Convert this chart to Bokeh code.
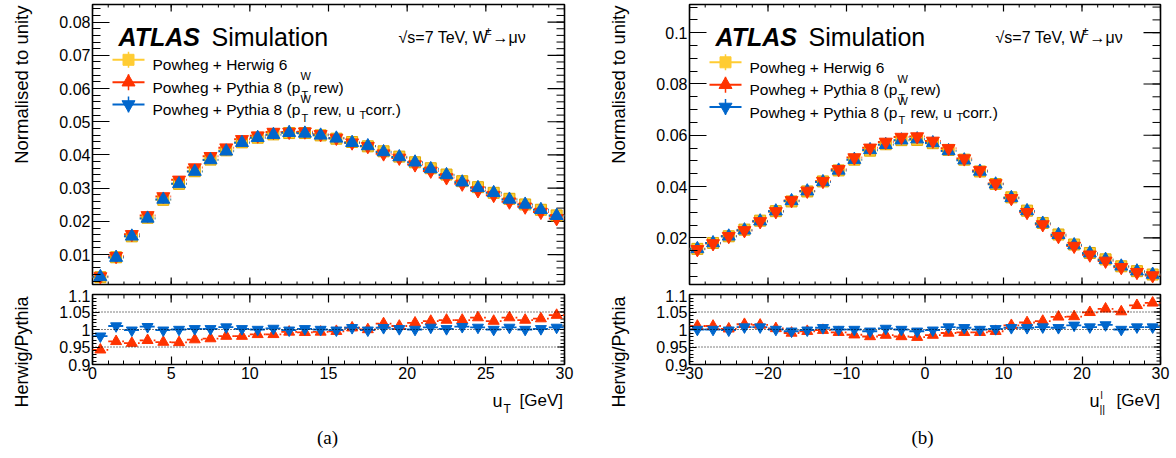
import numpy as np
from bokeh.plotting import figure
from bokeh.models import Range1d, FixedTicker, Label, Span, ColumnDataSource
from bokeh.layouts import row, column
from bokeh.embed import file_html
from bokeh.resources import INLINE

# ---------------- data ----------------
ut_centres = [0.5, 1.5, 2.5, 3.5, 4.5, 5.5, 6.5, 7.5, 8.5, 9.5, 10.5, 11.5, 12.5, 13.5, 14.5,
              15.5, 16.5, 17.5, 18.5, 19.5, 20.5, 21.5, 22.5, 23.5, 24.5, 25.5, 26.5, 27.5, 28.5, 29.5]
ut_herwig = [0.0032, 0.0092, 0.0155, 0.0211, 0.0265, 0.0313, 0.0351, 0.0386, 0.0414, 0.0438,
             0.0452, 0.0462, 0.0466, 0.0466, 0.0459, 0.0449, 0.0439, 0.0426, 0.0411, 0.0395,
             0.0378, 0.0360, 0.0341, 0.0321, 0.0303, 0.0286, 0.0268, 0.0251, 0.0235, 0.0218]
ut_pythia_rew = [0.0034, 0.0095, 0.0161, 0.0218, 0.0275, 0.0325, 0.0362, 0.0396, 0.0422, 0.0447,
                 0.0458, 0.0469, 0.0469, 0.0470, 0.0462, 0.0451, 0.0437, 0.0426, 0.0404, 0.0391,
                 0.0371, 0.0352, 0.0332, 0.0313, 0.0293, 0.0279, 0.0259, 0.0244, 0.0228, 0.0209]
ut_pythia_corr = [0.0033, 0.0091, 0.0155, 0.0209, 0.0266, 0.0313, 0.0350, 0.0385, 0.0411, 0.0437,
                  0.0452, 0.0461, 0.0467, 0.0465, 0.0459, 0.0450, 0.0437, 0.0427, 0.0409, 0.0394,
                  0.0378, 0.0358, 0.0340, 0.0318, 0.0301, 0.0286, 0.0266, 0.0251, 0.0235, 0.0217]
ut_ratio_rew = [0.942, 0.966, 0.961, 0.969, 0.964, 0.963, 0.971, 0.974, 0.981, 0.981,
                0.986, 0.986, 0.993, 0.992, 0.993, 0.995, 1.005, 1.000, 1.017, 1.010,
                1.019, 1.024, 1.027, 1.027, 1.034, 1.024, 1.034, 1.027, 1.031, 1.041]
ut_ratio_corr = [0.981, 1.010, 0.998, 1.008, 0.998, 1.000, 1.002, 1.002, 1.007, 1.002,
                 1.000, 1.003, 0.998, 1.002, 1.000, 0.998, 1.005, 0.998, 1.005, 1.002,
                 1.000, 1.006, 1.002, 1.008, 1.006, 1.000, 1.006, 1.000, 1.002, 1.006]

upar_centres = [-29, -27, -25, -23, -21, -19, -17, -15, -13, -11, -9, -7, -5, -3, -1,
                1, 3, 5, 7, 9, 11, 13, 15, 17, 19, 21, 23, 25, 27, 29]
upar_herwig = [0.0157, 0.0180, 0.0206, 0.0232, 0.0267, 0.0304, 0.0342, 0.0381, 0.0420, 0.0463,
               0.0505, 0.0540, 0.0565, 0.0581, 0.0582, 0.0569, 0.0543, 0.0505, 0.0459, 0.0410,
               0.0358, 0.0306, 0.0258, 0.0213, 0.0174, 0.0141, 0.0116, 0.0089, 0.0070, 0.0057]
upar_pythia_rew = [0.0155, 0.0178, 0.0206, 0.0229, 0.0264, 0.0303, 0.0346, 0.0383, 0.0421, 0.0467,
                   0.0513, 0.0551, 0.0574, 0.0593, 0.0595, 0.0578, 0.0549, 0.0509, 0.0463, 0.0412,
                   0.0354, 0.0300, 0.0252, 0.0206, 0.0168, 0.0134, 0.0110, 0.0085, 0.0066, 0.0053]
upar_pythia_corr = [0.0157, 0.0180, 0.0206, 0.0230, 0.0265, 0.0304, 0.0344, 0.0382, 0.0418, 0.0463,
                    0.0505, 0.0543, 0.0563, 0.0581, 0.0585, 0.0570, 0.0539, 0.0503, 0.0459, 0.0409,
                    0.0356, 0.0305, 0.0256, 0.0212, 0.0172, 0.0140, 0.0115, 0.0089, 0.0070, 0.0057]
upar_ratio_rew = [1.010, 1.010, 1.002, 1.015, 1.013, 1.003, 0.990, 0.995, 0.998, 0.992,
                  0.985, 0.980, 0.984, 0.980, 0.978, 0.984, 0.990, 0.992, 0.992, 0.995,
                  1.012, 1.020, 1.024, 1.036, 1.037, 1.049, 1.059, 1.051, 1.069, 1.076]
upar_ratio_corr = [1.000, 1.000, 0.998, 1.007, 1.007, 1.000, 0.995, 0.998, 1.005, 1.000,
                   1.000, 0.995, 1.003, 1.000, 0.995, 0.998, 1.007, 1.005, 1.000, 1.002,
                   1.005, 1.005, 1.007, 1.005, 1.012, 1.007, 1.013, 1.000, 1.007, 1.007]

legend_labels = ["Powheg + Herwig 6", "Powheg + Pythia 8 (p", "Powheg + Pythia 8 (p"]

# ---------------- style ----------------
SANS = "Liberation Sans"
SERIF = "Liberation Serif"
C_HER = "#ffcc33"
C_REW = "#ff3300"
C_COR = "#0066cc"
TICK_FS = "16px"

H_MAIN, H_RAT, H_XT = 289, 96, 70
FT_M, FH_M = 4, 280          # main frame, page coords
FT_R, FH_R = 294, 70         # ratio frame, page coords
Y_XT = H_MAIN + H_RAT        # top of the x-title strip
H_TOT = H_MAIN + H_RAT + H_XT


def conv(FL, FT, FW, FH, xr, yr):
    def cx(px):
        return xr[0] + (px - FL) / FW * (xr[1] - xr[0])

    def cy(py):
        return yr[1] - (py - FT) / FH * (yr[1] - yr[0])
    return cx, cy


def add_label(p, cv, px, py, text, size, font=SANS, style="normal", align="left",
              baseline="alphabetic", angle=0.0):
    cx, cy = cv
    p.add_layout(Label(x=cx(px), y=cy(py), text=text, text_font=font,
                       text_font_size=f"{size}px", text_font_style=style,
                       text_align=align, text_baseline=baseline, angle=angle,
                       text_color="black"))


def style_axis(ax, ticks, minor, maj_len, min_len, labels, standoff):
    ax.ticker = FixedTicker(ticks=ticks, minor_ticks=minor)
    ax.major_tick_in = int(maj_len)
    ax.major_tick_out = 0
    ax.minor_tick_in = int(min_len)
    ax.minor_tick_out = 0
    ax.axis_line_color = None
    ax.major_tick_line_color = "black"
    ax.minor_tick_line_color = "black"
    ax.major_tick_line_width = 1.2
    ax.minor_tick_line_width = 1.0
    ax.major_label_overrides = labels
    ax.major_label_text_font = SANS
    ax.major_label_text_font_size = TICK_FS
    ax.major_label_text_color = "black"
    ax.major_label_standoff = standoff


def manual_ticks(p, side, ticks, minor, maj_px, min_px, xr, yr, FW, FH):
    dx = (xr[1] - xr[0]) / FW
    dy = (yr[1] - yr[0]) / FH
    for vals, L in ((ticks, maj_px), (minor, min_px)):
        v = np.array(vals, dtype=float)
        if side == "bottom":
            d = dict(x0=v, x1=v, y0=np.full(len(v), yr[0]), y1=np.full(len(v), yr[0] + L * dy))
        elif side == "top":
            d = dict(x0=v, x1=v, y0=np.full(len(v), yr[1]), y1=np.full(len(v), yr[1] - L * dy))
        else:  # right
            d = dict(x0=np.full(len(v), xr[1]), x1=np.full(len(v), xr[1] - L * dx), y0=v, y1=v)
        p.segment(x0="x0", x1="x1", y0="y0", y1="y1", source=ColumnDataSource(d),
                  line_color="black", line_width=1.2 if L == maj_px else 1.0)


def finish(p):
    p.grid.visible = False
    p.outline_line_color = "black"
    p.outline_line_width = 1.6
    p.background_fill_color = "white"
    p.border_fill_color = "white"


def text_fig(w, h, xr, ml=0, mr=0):
    f = figure(width=w, height=h, x_range=Range1d(*xr), y_range=Range1d(0, h),
               output_backend="svg", toolbar_location=None, x_axis_location=None,
               y_axis_location=None, min_border=0, min_border_left=ml, min_border_right=mr,
               min_border_top=0, min_border_bottom=0)
    f.grid.visible = False
    f.outline_line_color = None
    f.background_fill_color = "white"
    f.border_fill_color = "white"
    return f


def fmt_num(v):
    return ("%g" % v).replace("-", "\u2212")


def build(centres, hw, her, rew, cor, rr, rc, xr, yr_main, main_ticks, main_minor,
          x_ticks, x_minor, FW, ML, MR, W, dy_leg, right_panel, caption):
    # pixel positions are in "left-panel page coordinates"
    FL = 92
    yr_rat = (0.9, 1.1)
    c = np.array(centres, dtype=float)

    # ---------- main ----------
    pm = figure(width=W, height=H_MAIN, x_range=Range1d(*xr), y_range=Range1d(*yr_main),
                output_backend="svg", toolbar_location=None, x_axis_location=None,
                min_border_left=ML, min_border_right=MR, min_border_top=FT_M,
                min_border_bottom=H_MAIN - FT_M - FH_M)
    style_axis(pm.yaxis[0], main_ticks, main_minor, 17, 8,
               {t: fmt_num(t) for t in main_ticks}, 2)
    manual_ticks(pm, "bottom", x_ticks, x_minor, 7, 3, xr, yr_main, FW, FH_M)
    manual_ticks(pm, "top", x_ticks, x_minor, 7, 3, xr, yr_main, FW, FH_M)
    manual_ticks(pm, "right", main_ticks, main_minor, 17, 8, xr, yr_main, FW, FH_M)
    finish(pm)
    cvm = conv(FL, FT_M, FW, FH_M, xr, yr_main)

    for vals, col in ((her, C_HER), (rew, C_REW), (cor, C_COR)):
        src = ColumnDataSource(dict(x0=c - hw, x1=c + hw, y=vals))
        pm.segment(x0="x0", x1="x1", y0="y", y1="y", source=src, line_color=col,
                   line_width=2, line_dash="3 2")
    pm.scatter(c, her, marker="square", size=11, fill_color=C_HER, line_color="#e0a800",
               line_width=1)
    if right_panel:
        pm.scatter(c, cor, marker="triangle", size=13, fill_color=C_COR, line_color=C_COR)
        pm.scatter(c, rew, marker="inverted_triangle", size=13, fill_color=C_REW,
                   line_color=C_REW)
    else:
        pm.scatter(c, rew, marker="inverted_triangle", size=13, fill_color=C_REW,
                   line_color=C_REW)
        pm.scatter(c, cor, marker="triangle", size=13, fill_color=C_COR, line_color=C_COR)

    cx, cy = cvm
    rows_y = [59.3 + dy_leg, 81.7 + dy_leg, 104.0 + dy_leg]
    for yy, col, mk, sz in zip(rows_y, [C_HER, C_REW, C_COR],
                               ["square", "triangle", "inverted_triangle"], [11, 13, 13]):
        pm.segment(x0=[cx(112)], x1=[cx(144)], y0=[cy(yy)], y1=[cy(yy)],
                   line_color=col, line_width=2)
        pm.segment(x0=[cx(128)], x1=[cx(128)], y0=[cy(yy - 8)], y1=[cy(yy + 8)],
                   line_color=col, line_width=1.5)
        pm.scatter([cx(128)], [cy(yy)], marker=mk, size=sz, fill_color=col, line_color=col)
    TX = 152
    b1, b2, b3 = [yy + 5 for yy in rows_y]
    add_label(pm, cvm, TX, b1, legend_labels[0], 15.5)
    add_label(pm, cvm, TX, b2, legend_labels[1], 15.5)
    add_label(pm, cvm, 300, b2 - 11, "W", 11)
    add_label(pm, cvm, 301, b2 + 8, "T", 11)
    add_label(pm, cvm, 313, b2, " rew)", 15.5)
    add_label(pm, cvm, TX, b3, legend_labels[2], 15.5)
    add_label(pm, cvm, 300, b3 - 11, "W", 11)
    add_label(pm, cvm, 301, b3 + 8, "T", 11)
    add_label(pm, cvm, 313, b3, " rew, u", 15.5)
    add_label(pm, cvm, 359, b3 + 5, "T", 11)
    add_label(pm, cvm, 365, b3, " corr.)", 15.5)
    add_label(pm, cvm, 118, 36, "ATLAS", 25, style="bold italic")
    add_label(pm, cvm, 211, 36, "Simulation", 25)
    add_label(pm, cvm, 398, 36.5, "\u221as=7 TeV, W", 16)
    add_label(pm, cvm, 485, 30, "\u00b1", 11)
    add_label(pm, cvm, 492, 36.5, "\u2192\u03bc\u03bd", 16)

    # ---------- ratio ----------
    pr = figure(width=W, height=H_RAT, x_range=pm.x_range, y_range=Range1d(*yr_rat),
                output_backend="svg", toolbar_location=None,
                min_border_left=ML, min_border_right=MR, min_border_top=FT_R - H_MAIN,
                min_border_bottom=H_RAT - (FT_R - H_MAIN) - FH_R)
    rt = [0.9, 0.95, 1.0, 1.05, 1.1]
    rlab = {0.9: "0.9", 0.95: "0.95", 1.0: "1", 1.05: "1.05", 1.1: "1.1"}
    rminor = [round(0.9 + 0.01 * i, 2) for i in range(21)]
    style_axis(pr.yaxis[0], rt, rminor, 7, 4, rlab, 2)
    style_axis(pr.xaxis[0], x_ticks, x_minor, 8, 4, {t: fmt_num(t) for t in x_ticks}, 2)
    manual_ticks(pr, "top", x_ticks, x_minor, 8, 4, xr, yr_rat, FW, FH_R)
    manual_ticks(pr, "right", rt, rminor, 7, 4, xr, yr_rat, FW, FH_R)
    finish(pr)
    for lv in (0.95, 1.0, 1.05):
        pr.add_layout(Span(location=lv, dimension="width", line_color="black",
                           line_width=1, line_dash="1 2"))
    pr.segment(x0="x0", x1="x1", y0="y", y1="y",
               source=ColumnDataSource(dict(x0=c - hw, x1=c + hw, y=rr)),
               line_color=C_REW, line_width=1.8, line_dash="4 3")
    pr.segment(x0="x0", x1="x1", y0="y", y1="y",
               source=ColumnDataSource(dict(x0=c - hw, x1=c + hw, y=rc)),
               line_color=C_COR, line_width=1.8, line_dash="5 2 1 2")
    pr.scatter(c, rr, marker="triangle", size=11, fill_color=C_REW, line_color=C_REW)
    pr.scatter(c, rc, marker="inverted_triangle", size=11, fill_color=C_COR, line_color=C_COR)

    # ---------- x-title / caption strip (frame aligned with the plots above) ----------
    xt = text_fig(W, H_XT, (0, FW), ML, MR)
    cvt = conv(FL, Y_XT, FW, H_XT, (0, FW), (0, H_XT))
    add_label(xt, cvt, 562.5, 400, "[GeV]", 17, align="right")
    add_label(xt, cvt, 492, 400, "u", 18)
    if right_panel:
        add_label(xt, cvt, 503, 395, "l", 10)
        add_label(xt, cvt, 502, 408, "||", 11)
    else:
        add_label(xt, cvt, 503, 408, "T", 12)
    add_label(xt, cvt, 327 - (2 if right_panel else 0), 437, caption, 19, font=SERIF,
              align="center", baseline="middle")
    return column(pm, pr, xt)


def ytitle_fig(w, x_base):
    f = text_fig(w, H_TOT, (0, w))
    cv = conv(0, 0, w, H_TOT, (0, w), (0, H_TOT))
    add_label(f, cv, x_base, 5, "Normalised to unity", 18.5, align="right", angle=np.pi / 2)
    add_label(f, cv, x_base, 296, "Herwig/Pythia", 18, align="right", angle=np.pi / 2)
    return f


ut_ticks = [0, 5, 10, 15, 20, 25, 30]
ut_minor = [i for i in range(0, 31)]
up_ticks = [-30, -20, -10, 0, 10, 20, 30]
up_minor = [i for i in range(-30, 31, 2)]
main_l_ticks = [0.01, 0.02, 0.03, 0.04, 0.05, 0.06, 0.07, 0.08]
main_l_minor = [round(0.002 * i, 3) for i in range(0, 43)]
main_r_ticks = [0.02, 0.04, 0.06, 0.08, 0.1]
main_r_minor = [round(0.005 * i, 3) for i in range(0, 23)]

left = build(ut_centres, 0.5, ut_herwig, ut_pythia_rew, ut_pythia_corr, ut_ratio_rew,
             ut_ratio_corr, (0, 30), (0.001, 0.0853), main_l_ticks, main_l_minor,
             ut_ticks, ut_minor, FW=472, ML=48, MR=36, W=556, dy_leg=0.0,
             right_panel=False, caption="(a)")
right = build(upar_centres, 1.0, upar_herwig, upar_pythia_rew, upar_pythia_corr,
              upar_ratio_rew, upar_ratio_corr, (-30, 30), (0.0018, 0.111), main_r_ticks,
              main_r_minor, up_ticks, up_minor, FW=471, ML=45, MR=12, W=528,
              dy_leg=2.5, right_panel=True, caption="(b)")

layout = row(ytitle_fig(44, 21), left, ytitle_fig(44, 18), right)
open("out.html", "w").write(file_html(layout, INLINE))
